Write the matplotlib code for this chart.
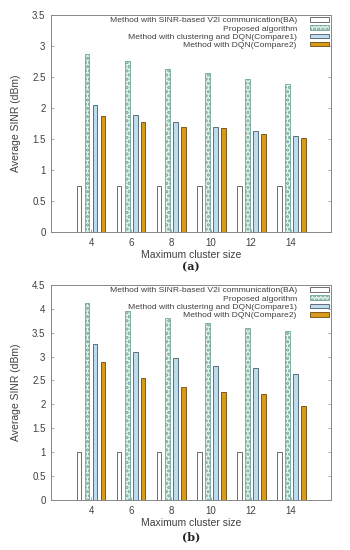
import matplotlib
matplotlib.use("Agg")
import matplotlib.pyplot as plt
import numpy as np

cluster_sizes = ["4", "6", "8", "10", "12", "14"]
series_labels = [
    "Method with SINR-based V2I communication(BA)",
    "Proposed algorithm",
    "Method with clustering and DQN(Compare1)",
    "Method with DQN(Compare2)",
]
a_ba = [0.75, 0.75, 0.75, 0.75, 0.75, 0.75]
a_proposed = [2.87, 2.75, 2.62, 2.57, 2.46, 2.38]
a_compare1 = [2.04, 1.88, 1.77, 1.69, 1.63, 1.55]
a_compare2 = [1.87, 1.77, 1.70, 1.68, 1.58, 1.51]

b_ba = [1.0, 1.0, 1.0, 1.0, 1.0, 1.0]
b_proposed = [4.12, 3.95, 3.81, 3.70, 3.60, 3.53]
b_compare1 = [3.26, 3.09, 2.96, 2.81, 2.77, 2.63]
b_compare2 = [2.89, 2.56, 2.36, 2.26, 2.22, 1.97]

plt.rcParams['font.family'] = ['Liberation Sans', 'DejaVu Sans']
plt.rcParams['hatch.linewidth'] = 1.6
plt.rcParams['hatch.color'] = "#8cc4b4"
fig = plt.figure(figsize=(3.5, 5.5), dpi=100)

tc = "#404040"
styles = [
    dict(facecolor="white", edgecolor="#555555", hatch=None),
    dict(facecolor="#e6f3ee", edgecolor="#6fa898", hatch="...."),
    dict(facecolor="#bcdcf0", edgecolor="#4a5a66", hatch=None),
    dict(facecolor="#d99a1a", edgecolor="#6a4a10", hatch=None),
]

def draw(rect, data, ymax, caption, cap_y):
    ax = fig.add_axes(rect)
    x = np.arange(len(cluster_sizes))
    offs = [-0.3, -0.1, 0.1, 0.3]
    for i, (vals, st, lab) in enumerate(zip(data, styles, series_labels)):
        ax.bar(x + offs[i], vals, width=0.12, facecolor=st["facecolor"],
               edgecolor=st["edgecolor"], hatch=st["hatch"], linewidth=0.6, label=lab)
    ax.set_xlim(-1, 6)
    ax.set_ylim(0, ymax)
    ticks = np.arange(0, ymax + 0.01, 0.5)
    ax.set_yticks(ticks)
    ax.set_yticklabels([f"{v:g}" for v in ticks])
    ax.set_xticks(x)
    ax.set_xticklabels(cluster_sizes)
    for s in ax.spines.values():
        s.set_color("#888888")
        s.set_linewidth(0.7)
    ax.tick_params(axis="both", direction="in", length=2.5, width=0.5, color="#888888",
                   labelsize=7, labelcolor=tc, right=True, pad=4)
    ax.set_xlabel("Maximum cluster size", fontsize=7.5, color=tc, labelpad=2)
    ax.set_ylabel("Average SINR (dBm)", fontsize=7.5, color=tc, labelpad=8)
    leg = ax.legend(loc="upper right", frameon=False, markerfirst=False, fontsize=6.1,
                    handlelength=2.2, handleheight=0.45, labelspacing=0.12,
                    handletextpad=1.6, borderaxespad=0.1, borderpad=0.15)
    for t in leg.get_texts():
        t.set_color(tc)
    fig.text(rect[0] + rect[2] / 2, cap_y, caption, ha="center", va="center",
             fontsize=8, family="DejaVu Serif", fontweight="bold", color="#222222")
    return ax

draw([0.146, 0.578, 0.8, 0.395], [a_ba, a_proposed, a_compare1, a_compare2], 3.5, "(a)", 1 - 267 / 550)
draw([0.146, 0.091, 0.8, 0.391], [b_ba, b_proposed, b_compare1, b_compare2], 4.5, "(b)", 1 - 537 / 550)

fig.savefig("out.png", dpi=100)
